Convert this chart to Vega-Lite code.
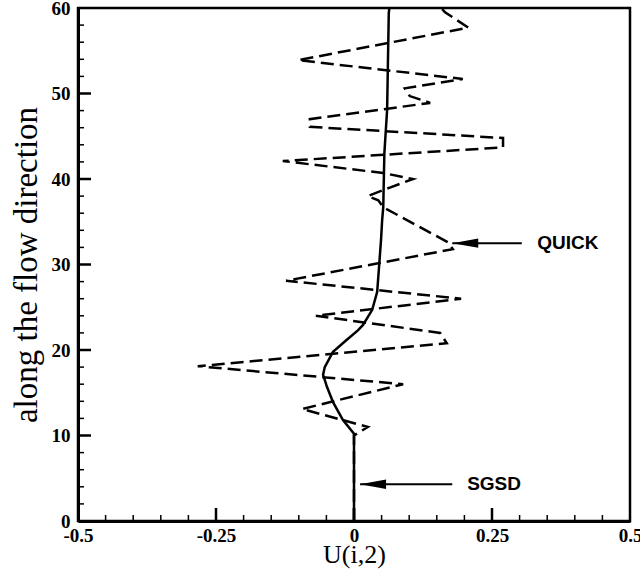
{
  "$schema": "https://vega.github.io/schema/vega-lite/v6.json",
  "autosize": "none",
  "width": 552,
  "height": 513,
  "padding": {"left": 78, "top": 8, "right": 10, "bottom": 64},
  "background": "white",
  "config": {
    "view": {"stroke": "black", "strokeWidth": 2.5},
    "axis": {"grid": false, "domainColor": "black", "domainWidth": 3, "tickColor": "black", "labelColor": "black", "titleColor": "black"}
  },
  "datasets": {
    "curves": [
      {"series": "QUICK", "i": 1, "u": 0, "y": 0},
      {"series": "QUICK", "i": 2, "u": 0, "y": 10},
      {"series": "QUICK", "i": 3, "u": 0.025, "y": 11},
      {"series": "QUICK", "i": 4, "u": -0.094, "y": 13.1},
      {"series": "QUICK", "i": 5, "u": 0.089, "y": 16.0},
      {"series": "QUICK", "i": 6, "u": -0.283, "y": 18.1},
      {"series": "QUICK", "i": 7, "u": 0.168, "y": 20.8},
      {"series": "QUICK", "i": 8, "u": 0.156, "y": 22.0},
      {"series": "QUICK", "i": 9, "u": -0.069, "y": 24.0},
      {"series": "QUICK", "i": 10, "u": 0.194, "y": 26.0},
      {"series": "QUICK", "i": 11, "u": -0.123, "y": 28.1},
      {"series": "QUICK", "i": 12, "u": 0.179, "y": 31.8},
      {"series": "QUICK", "i": 13, "u": 0.17, "y": 32.6},
      {"series": "QUICK", "i": 14, "u": 0.053, "y": 36.7},
      {"series": "QUICK", "i": 15, "u": 0.044, "y": 37.5},
      {"series": "QUICK", "i": 16, "u": 0.025, "y": 38.0},
      {"series": "QUICK", "i": 17, "u": 0.065, "y": 39.0},
      {"series": "QUICK", "i": 18, "u": 0.107, "y": 40.0},
      {"series": "QUICK", "i": 19, "u": 0.053, "y": 40.7},
      {"series": "QUICK", "i": 20, "u": -0.129, "y": 42.1},
      {"series": "QUICK", "i": 21, "u": 0.27, "y": 43.7},
      {"series": "QUICK", "i": 22, "u": 0.27, "y": 44.8},
      {"series": "QUICK", "i": 23, "u": -0.08, "y": 46.1},
      {"series": "QUICK", "i": 24, "u": -0.08, "y": 47.0},
      {"series": "QUICK", "i": 25, "u": 0.138, "y": 48.9},
      {"series": "QUICK", "i": 26, "u": 0.101, "y": 49.7},
      {"series": "QUICK", "i": 27, "u": 0.092, "y": 50.6},
      {"series": "QUICK", "i": 28, "u": 0.197, "y": 51.7},
      {"series": "QUICK", "i": 29, "u": -0.101, "y": 53.9},
      {"series": "QUICK", "i": 30, "u": 0.207, "y": 57.7},
      {"series": "QUICK", "i": 31, "u": 0.165, "y": 59.5},
      {"series": "QUICK", "i": 32, "u": 0.158, "y": 60},
      {"series": "SGSD", "i": 1, "u": 0, "y": 0},
      {"series": "SGSD", "i": 2, "u": 0, "y": 10.2},
      {"series": "SGSD", "i": 3, "u": -0.02, "y": 11.8},
      {"series": "SGSD", "i": 4, "u": -0.038, "y": 13.9},
      {"series": "SGSD", "i": 5, "u": -0.049, "y": 15.7},
      {"series": "SGSD", "i": 6, "u": -0.056, "y": 17.1},
      {"series": "SGSD", "i": 7, "u": -0.053, "y": 18.0},
      {"series": "SGSD", "i": 8, "u": -0.038, "y": 19.8},
      {"series": "SGSD", "i": 9, "u": -0.013, "y": 21.2},
      {"series": "SGSD", "i": 10, "u": 0.007, "y": 22.3},
      {"series": "SGSD", "i": 11, "u": 0.016, "y": 22.9},
      {"series": "SGSD", "i": 12, "u": 0.033, "y": 24.7},
      {"series": "SGSD", "i": 13, "u": 0.042, "y": 26.8},
      {"series": "SGSD", "i": 14, "u": 0.045, "y": 29.4},
      {"series": "SGSD", "i": 15, "u": 0.049, "y": 32.9},
      {"series": "SGSD", "i": 16, "u": 0.051, "y": 35.2},
      {"series": "SGSD", "i": 17, "u": 0.053, "y": 36.7},
      {"series": "SGSD", "i": 18, "u": 0.055, "y": 43.0},
      {"series": "SGSD", "i": 19, "u": 0.06, "y": 48.1},
      {"series": "SGSD", "i": 20, "u": 0.063, "y": 59.4},
      {"series": "SGSD", "i": 21, "u": 0.064, "y": 60}
    ],
    "notes": [
      {"label": "QUICK", "tip": 0.178, "end": 0.304, "textx": 0.332, "y": 32.5},
      {"label": "SGSD", "tip": 0.011, "end": 0.178, "textx": 0.205, "y": 4.3}
    ],
    "xticks": [
      {"v": -0.45, "kind": "minor"}, {"v": -0.4, "kind": "minor"}, {"v": -0.35, "kind": "minor"}, {"v": -0.3, "kind": "minor"},
      {"v": -0.25, "kind": "major"},
      {"v": -0.2, "kind": "minor"}, {"v": -0.15, "kind": "minor"}, {"v": -0.1, "kind": "minor"}, {"v": -0.05, "kind": "minor"},
      {"v": 0, "kind": "major"},
      {"v": 0.05, "kind": "minor"}, {"v": 0.1, "kind": "minor"}, {"v": 0.15, "kind": "minor"}, {"v": 0.2, "kind": "minor"},
      {"v": 0.25, "kind": "major"},
      {"v": 0.3, "kind": "minor"}, {"v": 0.35, "kind": "minor"}, {"v": 0.4, "kind": "minor"}, {"v": 0.45, "kind": "minor"}
    ],
    "yticks": [
      {"v": 2, "kind": "minor"}, {"v": 4, "kind": "minor"}, {"v": 6, "kind": "minor"}, {"v": 8, "kind": "minor"},
      {"v": 10, "kind": "major"},
      {"v": 12, "kind": "minor"}, {"v": 14, "kind": "minor"}, {"v": 16, "kind": "minor"}, {"v": 18, "kind": "minor"},
      {"v": 20, "kind": "major"},
      {"v": 22, "kind": "minor"}, {"v": 24, "kind": "minor"}, {"v": 26, "kind": "minor"}, {"v": 28, "kind": "minor"},
      {"v": 30, "kind": "major"},
      {"v": 32, "kind": "minor"}, {"v": 34, "kind": "minor"}, {"v": 36, "kind": "minor"}, {"v": 38, "kind": "minor"},
      {"v": 40, "kind": "major"},
      {"v": 42, "kind": "minor"}, {"v": 44, "kind": "minor"}, {"v": 46, "kind": "minor"}, {"v": 48, "kind": "minor"},
      {"v": 50, "kind": "major"},
      {"v": 52, "kind": "minor"}, {"v": 54, "kind": "minor"}, {"v": 56, "kind": "minor"}, {"v": 58, "kind": "minor"}
    ]
  },
  "layer": [
    {
      "data": {"name": "curves"},
      "transform": [{"filter": "datum.series === 'QUICK'"}],
      "mark": {"type": "line", "color": "black", "strokeWidth": 2.5, "strokeDash": [13, 6], "clip": true},
      "encoding": {
        "x": {"field": "u", "type": "quantitative", "scale": {"domain": [-0.5, 0.5], "nice": false, "zero": false},
          "axis": {
            "orient": "bottom", "values": [-0.5, -0.25, 0, 0.25, 0.5],
            "ticks": false, "tickSize": 0,
            "labelExpr": "toString(datum.value)",
            "labelFont": "Liberation Serif", "labelFontWeight": "bold", "labelFontSize": 19,
            "labelFlush": false, "labelOverlap": false, "labelPadding": 5,
            "title": "U(i,2)", "titleFont": "Liberation Serif", "titleFontWeight": "normal", "titleFontSize": 26, "titlePadding": -4
          }},
        "y": {"field": "y", "type": "quantitative", "scale": {"domain": [0, 60], "nice": false, "zero": false},
          "axis": {
            "orient": "left", "values": [0, 10, 20, 30, 40, 50, 60],
            "ticks": false, "tickSize": 0,
            "labelFont": "Liberation Serif", "labelFontWeight": "bold", "labelFontSize": 19,
            "labelFlush": false, "labelOverlap": false, "labelPadding": 8,
            "title": "along the flow direction", "titleFont": "Liberation Serif", "titleFontWeight": "normal", "titleFontSize": 33, "titlePadding": 8
          }},
        "order": {"field": "i", "type": "quantitative"}
      }
    },
    {
      "data": {"name": "curves"},
      "transform": [{"filter": "datum.series === 'SGSD'"}],
      "mark": {"type": "line", "color": "black", "strokeWidth": 2.5, "clip": true},
      "encoding": {
        "x": {"field": "u", "type": "quantitative"},
        "y": {"field": "y", "type": "quantitative"},
        "order": {"field": "i", "type": "quantitative"}
      }
    },
    {
      "data": {"name": "xticks"},
      "transform": [{"filter": "datum.kind === 'major'"}],
      "mark": {"type": "rule", "color": "black", "strokeWidth": 2.5, "y2Offset": -13},
      "encoding": {
        "x": {"field": "v", "type": "quantitative"},
        "y": {"datum": 0, "type": "quantitative"},
        "y2": {"datum": 0}
      }
    },
    {
      "data": {"name": "xticks"},
      "transform": [{"filter": "datum.kind === 'minor'"}],
      "mark": {"type": "rule", "color": "black", "strokeWidth": 1.5, "y2Offset": -6},
      "encoding": {
        "x": {"field": "v", "type": "quantitative"},
        "y": {"datum": 0, "type": "quantitative"},
        "y2": {"datum": 0}
      }
    },
    {
      "data": {"name": "yticks"},
      "transform": [{"filter": "datum.kind === 'major'"}],
      "mark": {"type": "rule", "color": "black", "strokeWidth": 2.5, "x2Offset": 13},
      "encoding": {
        "y": {"field": "v", "type": "quantitative"},
        "x": {"datum": -0.5, "type": "quantitative"},
        "x2": {"datum": -0.5}
      }
    },
    {
      "data": {"name": "yticks"},
      "transform": [{"filter": "datum.kind === 'minor'"}],
      "mark": {"type": "rule", "color": "black", "strokeWidth": 1.5, "x2Offset": 6},
      "encoding": {
        "y": {"field": "v", "type": "quantitative"},
        "x": {"datum": -0.5, "type": "quantitative"},
        "x2": {"datum": -0.5}
      }
    },
    {
      "data": {"name": "notes"},
      "mark": {"type": "rule", "color": "black", "strokeWidth": 2},
      "encoding": {
        "x": {"field": "tip", "type": "quantitative"},
        "x2": {"field": "end"},
        "y": {"field": "y", "type": "quantitative"}
      }
    },
    {
      "data": {"name": "notes"},
      "mark": {"type": "point", "shape": "M0,0L2,-0.36L2,0.36Z", "filled": true, "color": "black", "opacity": 1, "size": 676},
      "encoding": {
        "x": {"field": "tip", "type": "quantitative"},
        "y": {"field": "y", "type": "quantitative"}
      }
    },
    {
      "data": {"name": "notes"},
      "mark": {"type": "text", "align": "left", "baseline": "middle", "font": "Liberation Sans", "fontWeight": "bold", "fontSize": 19, "color": "black"},
      "encoding": {
        "x": {"field": "textx", "type": "quantitative"},
        "y": {"field": "y", "type": "quantitative"},
        "text": {"field": "label"}
      }
    }
  ]
}
